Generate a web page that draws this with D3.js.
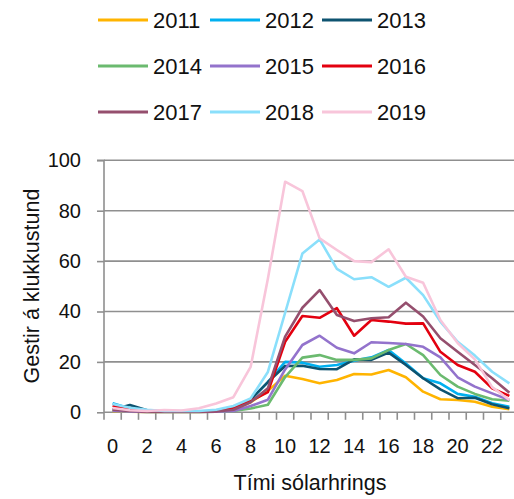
<!DOCTYPE html>
<html>
<head>
<meta charset="utf-8">
<script src="https://cdn.jsdelivr.net/npm/d3@7"></script>
<style>
  html, body { margin: 0; padding: 0; background: #fff; }
  svg { display: block; }
  text { font-family: "Liberation Sans", Arial, sans-serif; fill: #111; }
</style>
</head>
<body>
<svg id="chart" width="514" height="499"></svg>
<script>
const hours = d3.range(0, 24);
const hourLabels = ["0","","2","","4","","6","","8","","10","","12","","14","","16","","18","","20","","22",""];
const yTicks = [0, 20, 40, 60, 80, 100];
const years = ["2011","2012","2013","2014","2015","2016","2017","2018","2019"];
const colors = ["#FFB400","#00B0F0","#0E5370","#6BBA6F","#9373CC","#E3000F","#954F6E","#8ADFFB","#F8C5DA"];

const v2011 = [0.3,0.2,0.1,0.1,0.1,0.1,0.3,1,4,8.5,14.5,13.2,11.5,12.8,15.2,15,16.8,13.9,8.2,5.2,4.9,4.2,2.2,1.2];
const v2012 = [3.6,1.5,0.5,0.3,0.3,0.3,0.5,1.5,5,12,20,19.7,18.1,18.8,20.5,21.8,24.7,19.4,13.5,11.5,7.3,6.2,3.6,2.2];
const v2013 = [1,2.9,0.8,0.3,0.2,0.2,0.5,1.5,5,12,18.4,18.5,17.2,17.1,21,20.8,23.7,18.8,13.5,9.1,5.6,5.8,3.2,1.6];
const v2014 = [0.5,0.3,0.1,0.1,0.1,0.1,0.2,0.5,1.5,3,14,21.7,22.7,20.8,20.8,21.4,24.7,27.1,22.7,14.8,10.2,7.3,5.2,4.6];
const v2015 = [0.5,0.3,0.1,0.1,0.1,0.1,0.2,0.5,2.5,5,17,26.7,30.4,25.6,23.4,27.8,27.5,27.1,26,21.8,13.9,10.2,7.5,4.9];
const v2016 = [2.6,1,0.3,0.2,0.2,0.3,0.5,1.5,4.5,8,28,38.2,37.5,41.3,30.4,36.6,36,35.2,35.3,24,18.8,16.1,9.5,6.5];
const v2017 = [1,0.5,0.2,0.2,0.2,0.2,0.3,1,4,9.5,30,41.5,48.5,38.6,36.2,37.3,37.7,43.5,38,29.4,24,18.8,13.5,7.8];
const v2018 = [3.3,1.8,1,0.5,0.5,0.5,1,2.5,5.5,16,39.5,63,68.6,56.9,52.8,53.6,49.8,53.4,46.5,36,28,22.5,16.1,11.5];
const v2019 = [1.7,0.8,0.5,0.9,0.7,1.6,3.5,6,18,53,91.5,87.8,69,64.4,60,59.6,64.7,53.8,51.4,36.6,27.5,21,10,4.9];

const seriesValues = [v2011,v2012,v2013,v2014,v2015,v2016,v2017,v2018,v2019];

const svg = d3.select("#chart");
svg.append("rect").attr("width", 514).attr("height", 499).attr("fill", "#fff");

const pLeft = 104, pRight = 518, pTop = 160.3, pBottom = 412.3;
const x = d3.scaleBand().domain(hours).range([pLeft, pRight]).paddingInner(0).paddingOuter(0);
const y = d3.scaleLinear().domain([0, 100]).range([pBottom, pTop]);
const gridColor = "#8f8f8f";

// gridlines
svg.append("g").selectAll("line").data(yTicks.filter(d => d > 0)).join("line")
  .attr("x1", pLeft).attr("x2", pRight)
  .attr("y1", d => y(d)).attr("y2", d => y(d))
  .attr("stroke", gridColor).attr("stroke-width", 1.6);

// y axis
const yAxis = svg.append("g").attr("transform", `translate(${pLeft},0)`)
  .call(d3.axisLeft(y).tickValues(yTicks).tickSize(7).tickPadding(16).tickFormat(d3.format("d")));
yAxis.select(".domain").attr("stroke", gridColor).attr("stroke-width", 1.6).attr("d", `M-7,${pTop}H0V${pBottom}`);
yAxis.selectAll(".tick line").attr("stroke", gridColor).attr("stroke-width", 1.6);
yAxis.selectAll(".tick text").attr("font-size", 20).attr("font-family", "Liberation Sans, Arial, sans-serif").attr("fill", "#111");

// x axis: ticks at band boundaries
const xg = svg.append("g");
xg.append("line").attr("x1", pLeft).attr("x2", pRight).attr("y1", pBottom).attr("y2", pBottom)
  .attr("stroke", gridColor).attr("stroke-width", 1.6);
xg.selectAll("line.tk").data(hours.concat([24])).join("line").attr("class", "tk")
  .attr("x1", d => pLeft + d * x.bandwidth()).attr("x2", d => pLeft + d * x.bandwidth())
  .attr("y1", pBottom).attr("y2", pBottom + 7.5)
  .attr("stroke", gridColor).attr("stroke-width", 1.6);
xg.selectAll("text").data(hours).join("text")
  .attr("x", d => x(d) + x.bandwidth() / 2).attr("y", 453)
  .attr("text-anchor", "middle").attr("font-size", 20)
  .text((d, i) => hourLabels[i]);

// lines
const line = d3.line().x((d, i) => x(hours[i]) + x.bandwidth() / 2).y(d => y(d));
svg.append("g").selectAll("path").data(seriesValues).join("path")
  .attr("d", d => line(d))
  .attr("fill", "none")
  .attr("stroke", (d, i) => colors[i])
  .attr("stroke-width", 2.6)
  .attr("stroke-linejoin", "round");

// axis titles
svg.append("text").attr("x", 310).attr("y", 490).attr("text-anchor", "middle")
  .attr("font-size", 21.5).text("Tími sólarhrings");
svg.append("text").attr("transform", "translate(39,286) rotate(-90)").attr("text-anchor", "middle")
  .attr("font-size", 21.5).text("Gestir á klukkustund");

// legend
const legCols = [98, 210, 322];
const legRows = [20, 66, 112];
const leg = svg.append("g").selectAll("g").data(years).join("g")
  .attr("transform", (d, i) => `translate(${legCols[i % 3]},${legRows[Math.floor(i / 3)]})`);
leg.append("line").attr("x1", 0).attr("x2", 50).attr("y1", 0).attr("y2", 0)
  .attr("stroke", (d, i) => colors[i]).attr("stroke-width", 2.8);
leg.append("text").attr("x", 55).attr("y", 8).attr("font-size", 22).text(d => d);
</script>
</body>
</html>
